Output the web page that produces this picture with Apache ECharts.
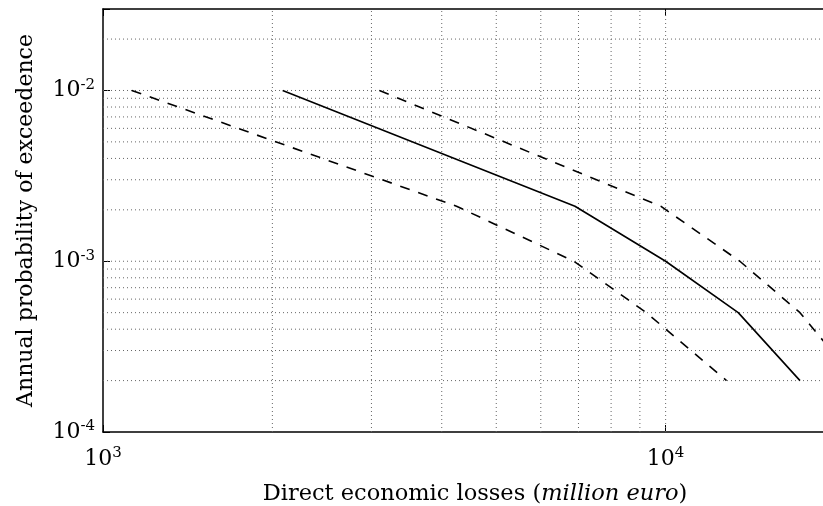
<!DOCTYPE html>
<html>
<head>
<meta charset="utf-8">
<script src="https://cdn.jsdelivr.net/npm/echarts@6/dist/echarts.min.js"></script>
<style>
  html, body { margin: 0; padding: 0; background: #fff; }
  #chart { width: 823px; height: 506px; }
</style>
</head>
<body>
<div id="chart"></div>
<script>
// annual probability of exceedence at each return period
const probabilities = [0.01, 0.0021, 0.001, 0.0005, 0.0002];
// direct losses (million euro): mean and the two bounds
const lossesMean = [2086, 6900, 10000, 13460, 17330];
const lossesLower = [1125, 4250, 6870, 9240, 12830];
const lossesUpper = [3100, 9800, 13550, 17330, 21800];

// axis ranges
const xRange = [1000, 20000];
const yRange = [0.0001, 0.03];

// dotted grid (major + minor decades)
const gridX = [2000, 3000, 4000, 5000, 6000, 7000, 8000, 9000, 10000];
const gridY = [0.0002, 0.0003, 0.0004, 0.0005, 0.0006, 0.0007, 0.0008, 0.0009,
  0.001, 0.002, 0.003, 0.004, 0.005, 0.006, 0.007, 0.008, 0.009, 0.01, 0.02];

const chart = echarts.init(document.getElementById('chart'));

const pair = (xs) => xs.map((x, i) => [x, probabilities[i]]);

// label as 10^n, hide the non-decade extent ticks
const powerLabel = (value) => {
  const e = Math.log10(value);
  const n = Math.round(e);
  if (Math.abs(e - n) > 1e-6) return '';
  return '{b|10}{s|' + n + '}';
};

const labelRich = {
  b: { fontFamily: 'DejaVu Serif', fontSize: 22, lineHeight: 26, color: '#000' },
  s: { fontFamily: 'DejaVu Serif', fontSize: 15, lineHeight: 15, verticalAlign: 'top', color: '#000' },
};

const spine = { lineStyle: { color: '#000', width: 1.5 } };
const tick = { inside: true, length: 7, lineStyle: { color: '#000', width: 1 } };
const dash = [10, 9];

const gridStyle = { color: '#666', width: 1, type: [1, 3] };
const gridSeries = [
  ...gridX.map((v) => [[v, yRange[0]], [v, yRange[1]]]),
  ...gridY.map((v) => [[xRange[0], v], [xRange[1], v]]),
].map((data) => ({
  type: 'line',
  data,
  showSymbol: false,
  silent: true,
  lineStyle: gridStyle,
  z: 1,
}));

const option = {
  animation: false,
  grid: { left: 103, top: 9, right: -12, bottom: 74, outerBoundsMode: 'none' },
  xAxis: [
    {
      type: 'log',
      logBase: 10,
      min: xRange[0],
      max: xRange[1],
      position: 'bottom',
      axisLine: spine,
      axisTick: tick,
      splitLine: { show: false },
      axisLabel: { formatter: powerLabel, rich: labelRich, margin: 14 },
      name: 'Direct economic losses ({i|million euro})',
      nameLocation: 'middle',
      nameGap: 51,
      nameTextStyle: {
        fontFamily: 'DejaVu Serif',
        fontSize: 22.5,
        color: '#000',
        padding: [0, 0, 0, 12],
        rich: {
          i: { fontFamily: 'DejaVu Serif', fontStyle: 'italic', fontSize: 22.5, color: '#000' },
        },
      },
    },
    {
      type: 'log',
      logBase: 10,
      min: xRange[0],
      max: xRange[1],
      position: 'top',
      axisLine: spine,
      axisTick: tick,
      splitLine: { show: false },
      axisLabel: { show: false },
    },
  ],
  yAxis: {
    type: 'log',
    logBase: 10,
    min: yRange[0],
    max: yRange[1],
    axisLine: spine,
    axisTick: tick,
    splitLine: { show: false },
    axisLabel: { formatter: powerLabel, rich: labelRich, margin: 8 },
    name: 'Annual probability of exceedence',
    nameLocation: 'middle',
    nameGap: 66,
    nameTextStyle: { fontFamily: 'DejaVu Serif', fontSize: 22, color: '#000' },
  },
  series: [
    ...gridSeries,
    {
      type: 'line',
      data: pair(lossesMean),
      showSymbol: false,
      lineStyle: { color: '#000', width: 1.6 },
      z: 3,
    },
    {
      type: 'line',
      data: pair(lossesLower),
      showSymbol: false,
      lineStyle: { color: '#000', width: 1.6, type: dash },
      z: 3,
    },
    {
      type: 'line',
      data: pair(lossesUpper),
      showSymbol: false,
      lineStyle: { color: '#000', width: 1.6, type: dash },
      z: 3,
    },
  ],
};

chart.setOption(option);
window.addEventListener('resize', () => chart.resize());
</script>
</body>
</html>
